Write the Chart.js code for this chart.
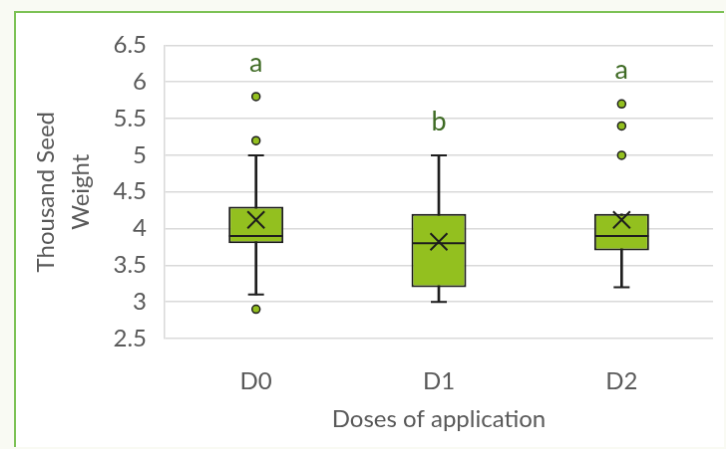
<!DOCTYPE html>
<html>
<head>
<meta charset="utf-8">
<script src="https://cdn.jsdelivr.net/npm/chart.js@4/dist/chart.umd.min.js"></script>
<style>
  body { margin: 0; background: #f9faf3; }
  #chart {
    position: absolute;
    left: 14px;
    top: 11px;
    border-left: 2px solid #7dc256;
    border-top: 2px solid #7dc256;
    background: #ffffff;
  }
</style>
</head>
<body>
<canvas id="chart" width="710" height="436"></canvas>
<script>
// data
const doses = ['D0', 'D1', 'D2'];
const whiskerLow = [3.1, 3.0, 3.2];
const q1 = [3.8, 3.2, 3.7];
const median = [3.9, 3.8, 3.9];
const q3 = [4.3, 4.2, 4.2];
const whiskerHigh = [5.0, 5.0, 4.2];
const mean = [4.12, 3.82, 4.12];
const outliers = [
  [5.8, 5.2, 2.9],
  [],
  [5.7, 5.4, 5.0],
];
const groupLetters = ['a', 'b', 'a'];
const yTickValues = [2.5, 3, 3.5, 4, 4.5, 5, 5.5, 6, 6.5];

const FONT = 'Lato, "Open Sans", sans-serif';
const TEXT_GREY = '#595959';
const BOX_GREEN = '#93c01f';
const EDGE = '#1e1e1e';

const outlierPoints = [];
outliers.forEach((vals, i) => {
  vals.forEach((v) => outlierPoints.push({ x: doses[i], y: v }));
});

// group letters above the highest mark of each box
const letterPlugin = {
  id: 'letters',
  afterDatasetsDraw(chart) {
    const { ctx, scales } = chart;
    ctx.save();
    ctx.font = `27px ${FONT}`;
    ctx.fillStyle = '#3f6b25';
    ctx.textAlign = 'center';
    ctx.textBaseline = 'alphabetic';
    groupLetters.forEach((letter, i) => {
      const top = Math.max(whiskerHigh[i], ...outliers[i]);
      const x = scales.x.getPixelForValue(i);
      const y = scales.y.getPixelForValue(top) - 25;
      ctx.fillText(letter, x, y);
    });
    ctx.restore();
  },
};

new Chart(document.getElementById('chart'), {
  type: 'bar',
  data: {
    labels: doses,
    datasets: [
      {
        type: 'line',
        data: mean,
        showLine: false,
        pointStyle: 'crossRot',
        pointRadius: 12,
        pointBorderColor: EDGE,
        pointBorderWidth: 2,
      },
      {
        type: 'line',
        data: outlierPoints,
        showLine: false,
        pointStyle: 'circle',
        pointRadius: 4,
        pointBackgroundColor: BOX_GREEN,
        pointBorderColor: EDGE,
        pointBorderWidth: 1.5,
      },
      {
        type: 'line',
        data: median,
        showLine: false,
        pointStyle: 'line',
        pointRadius: 27,
        pointBorderColor: EDGE,
        pointBorderWidth: 2,
      },
      {
        type: 'line',
        data: whiskerHigh.map((v, i) => (v > q3[i] ? v : null)),
        showLine: false,
        pointStyle: 'line',
        pointRadius: 8,
        pointBorderColor: EDGE,
        pointBorderWidth: 2,
      },
      {
        type: 'line',
        data: whiskerLow,
        showLine: false,
        pointStyle: 'line',
        pointRadius: 8,
        pointBorderColor: EDGE,
        pointBorderWidth: 2,
      },
      {
        data: doses.map((d, i) => [q1[i], q3[i]]),
        backgroundColor: BOX_GREEN,
        borderColor: EDGE,
        borderWidth: 2,
        borderSkipped: false,
        grouped: false,
        categoryPercentage: 1,
        barPercentage: 0.3,
      },
      {
        data: doses.map((d, i) => [whiskerLow[i], whiskerHigh[i]]),
        backgroundColor: EDGE,
        borderWidth: 0,
        grouped: false,
        barThickness: 2,
      },
    ],
  },
  options: {
    responsive: false,
    animation: false,
    layout: {
      autoPadding: false,
      padding: { top: 29, right: 11, left: 0, bottom: 0 },
    },
    plugins: {
      legend: { display: false },
      tooltip: { enabled: false },
    },
    scales: {
      x: {
        grid: { display: false },
        border: { display: false },
        ticks: { color: TEXT_GREY, font: { family: FONT, size: 24 }, padding: 21 },
        title: {
          display: true,
          text: 'Doses of application',
          color: TEXT_GREY,
          font: { family: FONT, size: 24 },
          padding: { top: 0, bottom: 13 },
        },
        afterFit: (scale) => { scale.height = 109; },
      },
      y: {
        min: 2.5,
        max: 6.5,
        grid: { color: '#d9d9d9', lineWidth: 1.5, drawTicks: false },
        border: { display: true, color: '#d9d9d9', width: 1.5 },
        ticks: {
          color: TEXT_GREY,
          font: { family: FONT, size: 24 },
          padding: 18,
          callback: (v) => String(v),
        },
        afterBuildTicks: (scale) => { scale.ticks = yTickValues.map((v) => ({ value: v })); },
        title: {
          display: true,
          text: ['Thousand Seed', 'Weight'],
          color: TEXT_GREY,
          font: { family: FONT, size: 24, lineHeight: 1.45 },
          padding: { top: 13, bottom: 0 },
        },
        afterFit: (scale) => { scale.width = 149; },
      },
    },
  },
  plugins: [letterPlugin],
});
</script>
</body>
</html>
